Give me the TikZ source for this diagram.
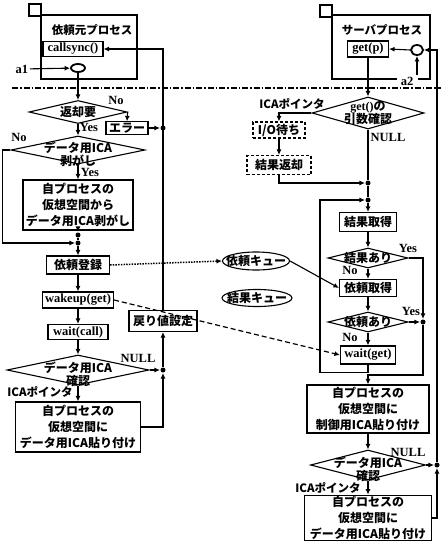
\documentclass[tikz,border=0pt]{standalone}
\usepackage{fontspec}
\setmainfont{Noto Sans CJK JP}
\newfontfamily\latf{Liberation Serif}
\usetikzlibrary{positioning,calc,shapes.geometric,arrows.meta}
\tikzset{
    >={Latex[length=5.5pt,width=5pt]},
    every path/.style={line width=1.1pt},
    ica box/.style={
        rectangle,
        draw,
        line width=1.1pt,
        inner sep=1pt,
        align=center,
        font=\fontsize{12}{16}\selectfont\bfseries
    },
    ica wait box/.style={ica box, densely dashed},
    ica lat box/.style={ica box, font=\latf\fontsize{12.5}{14}\selectfont\bfseries},
    ica cond/.style 2 args={
        diamond,
        draw,
        line width=1.1pt,
        minimum width=#1,
        minimum height=#2,
        inner sep=0pt
    },
    ica cond text/.style={align=center, inner sep=0pt, font=\fontsize{12}{13}\selectfont\bfseries},
    with text/.style={label={[ica cond text]center:#1}},
    ica queue/.style 2 args={
        ellipse,
        draw,
        line width=1.1pt,
        minimum width=#1,
        minimum height=#2,
        inner sep=0pt
    },
    ica entry/.style 2 args={ellipse, draw, line width=1.8pt, minimum width=#1, minimum height=#2, inner sep=0pt},
    lat label/.style={font=\latf\fontsize{12.5}{14}\selectfont\bfseries, inner sep=1pt},
    jp label/.style={font=\fontsize{11.5}{13}\selectfont\bfseries, inner sep=1pt},
    junction/.style={circle, fill, inner sep=0pt, minimum size=5pt},
    proc frame/.style={line width=1.1pt},
    border line/.style={line width=1.2pt, dash pattern=on 6pt off 2pt on 1.5pt off 2pt},
    req line/.style={line width=1.5pt, dash pattern=on 1.5pt off 1.2pt},
    wake line/.style={line width=1.2pt, dash pattern=on 5pt off 3pt}
}
\begin{document}
\begin{tikzpicture}[x=1pt,y=-1pt]
    \useasboundingbox (0,0) rectangle (441,551);

    %process frames and the border between user side and system side
    \draw[proc frame] (29,4) rectangle (41,16);
    \draw[proc frame] (41,15) rectangle (137,79);
    \draw[proc frame] (320,5) rectangle (332,17);
    \draw[proc frame] (397,79) -- (332,79) -- (332,15) -- (430,15) -- (430,79) -- (418,79);
    \draw[border line] (12,88) -- (441,88);

    %client side
    \node[jp label] (clientTitle) at (92,30) {依頼元プロセス};
    \node[ica lat box, minimum width=60pt, minimum height=15pt] (callsync) at (73,49) {callsync()};
    \node[ica entry={14pt}{8pt}] (entryL) at (78,68) {};
    \node[lat label] (a1) at (22,69) {a1};
    \node[ica cond={98pt}{23pt}, with text=返却要] (needRet) at (78,112) {};
    \node[ica box, minimum width=42pt, minimum height=12pt] (err) at (127,128) {エラー};
    \node[junction] (jE) at (163,128) {};
    \node[ica cond={134pt}{28pt}, label={[ica cond text,yshift=-4pt]center:データ用ICA\\剥がし}] (stripChk) at (78,150) {};
    \node[ica box, minimum width=110pt, minimum height=50pt] (stripBox) at (78,205) {自プロセスの\\仮想空間から\\データ用ICA剥がし};
    \node[junction] (j1) at (78,235) {};
    \node[junction] (j2) at (78,243) {};
    \node[ica box, minimum width=63pt, minimum height=18pt] (reg) at (78,265) {依頼登録};
    \node[ica lat box, minimum width=71pt, minimum height=16pt] (wake) at (78,300) {wakeup(get)};
    \node[ica lat box, minimum width=60pt, minimum height=15pt] (waitCall) at (78,332) {wait(call)};
    \node[ica cond={142pt}{30pt}, label={[ica cond text,yshift=-4pt]center:データ用ICA\\確認}] (chkL) at (78,370) {};
    \node[junction] (jR) at (163,370) {};
    \node[ica box, minimum width=68pt, minimum height=21pt] (retVal) at (163,321) {戻り値設定};
    \node[ica box, minimum width=125pt, minimum height=50pt] (pasteL) at (78,427) {自プロセスの\\仮想空間に\\データ用ICA貼り付け};

    \node[lat label] (retNo) at (116,100) {No};
    \node[lat label] (retYes) at (89,127) {Yes};
    \node[lat label] (stripNo) at (19,137) {No};
    \node[lat label] (stripYes) at (90,172) {Yes};
    \node[lat label] (chkLNull) at (138,358) {NULL};
    \node[jp label] (chkLPtr) at (40,392) {ICAポインタ};

    %server side
    \node[jp label] (serverTitle) at (382,30) {サーバプロセス};
    \node[ica lat box, minimum width=41pt, minimum height=16pt] (getp) at (368,49) {get(p)};
    \node[ica entry={12pt}{10pt}] (entryR) at (417,50) {};
    \node[lat label] (a2) at (407,81) {a2};
    \node[ica cond={112pt}{32pt}, label={[ica cond text]center:{\latf get()}の\\引数確認}] (argChk) at (368,113) {};
    \node[ica wait box, minimum width=52pt, minimum height=16pt] (ioWait) at (279,130) {I/O待ち};
    \node[ica wait box, minimum width=64pt, minimum height=19pt] (resRet) at (279,165) {結果返却};
    \node[junction] (j3) at (368,183) {};
    \node[junction] (j4) at (368,200) {};
    \coordinate (loopCorner) at (320,200);
    \node[ica box, minimum width=57pt, minimum height=19pt] (getRes) at (368,222) {結果取得};
    \node[ica cond={80pt}{20pt}, with text=結果あり] (hasRes) at (368,258) {};
    \node[ica box, minimum width=57pt, minimum height=17pt] (getReq) at (368,288) {依頼取得};
    \node[ica cond={80pt}{20pt}, with text=依頼あり] (hasReq) at (368,322) {};
    \node[junction] (j5) at (423,322) {};
    \node[ica lat box, minimum width=55pt, minimum height=18pt] (waitGet) at (368,355) {wait(get)};
    \node[ica box, minimum width=122pt, minimum height=48pt] (pasteCtrl) at (368,409) {自プロセスの\\仮想空間に\\制御用ICA貼り付け};
    \node[ica cond={115pt}{30pt}, label={[ica cond text,yshift=-4pt]center:データ用ICA\\確認}] (chkR) at (368,465) {};
    \node[junction] (j6) at (437,465) {};
    \node[ica box, minimum width=127pt, minimum height=43pt] (pasteR) at (368,518) {自プロセスの\\仮想空間に\\データ用ICA貼り付け};

    \node[jp label] (argPtr) at (292,104) {ICAポインタ};
    \node[lat label] (argNull) at (388,137) {NULL};
    \node[lat label] (resYes) at (408,248) {Yes};
    \node[lat label] (resNo) at (350,270) {No};
    \node[lat label] (reqYes) at (411,311) {Yes};
    \node[lat label] (reqNo) at (350,337) {No};
    \node[lat label] (chkRNull) at (408,452) {NULL};
    \node[jp label] (chkRPtr) at (328,488) {ICAポインタ};

    %queues
    \node[ica queue={67pt}{18pt}, with text=依頼キュー] (reqQ) at (256,261) {};
    \node[ica queue={70pt}{17pt}, with text=結果キュー] (resQ) at (257,298) {};

    %client flow
    \draw[->] (a1) -- (entryL);
    \draw[->] (entryL) -- (needRet.north);
    \draw[->] (needRet.east) -- (err.north);
    \draw[->] (err) -- (jE);
    \draw[->] (needRet.south) -- (stripChk.north);
    \draw[->] (stripChk.south) -- (stripBox.north);
    \draw[->] (stripChk.west) -- ++(-8,0) |- (j2);
    \draw[->] (stripBox.south) -- (j1);
    \draw (j1) -- (j2);
    \draw[->] (j2) -- (reg.north);
    \draw[->] (reg) -- (wake);
    \draw[->] (wake) -- (waitCall);
    \draw[->] (waitCall.south) -- (chkL.north);
    \draw[->] (chkL.east) -- (jR);
    \draw[->] (chkL.south) -- (pasteL.north);
    \draw[->] (pasteL.east) -| (jR);
    \draw[->] (jR) -- (retVal.south);
    \draw[->] (retVal.north) |- (callsync.east);

    %server flow
    \draw[->] (a2.north -| entryR.south) -- (entryR.south);
    \draw[->] (entryR.west) -- (getp.east);
    \draw[->] (getp.south) -- (argChk.north);
    \draw[->] (argChk.west) -| (ioWait.north);
    \draw[->] (ioWait) -- (resRet);
    \draw[->] (resRet.south) |- (j3);
    \draw (argChk.south) -- (j3);
    \draw (j3) -- (j4);
    \draw[->] (j4) -- (getRes.north);
    \draw[->] (getRes.south) -- (hasRes.north);
    \draw[->] (hasRes.south) -- (getReq.north);
    \draw[->] (hasRes.east) -| (j5);
    \draw[->] (getReq.south) -- (hasReq.north);
    \draw[->] (hasReq.east) -- (j5);
    \draw[->] (hasReq.south) -- (waitGet.north);
    \draw[->] (waitGet.south) -- ++(0,8) -| (loopCorner) -- (j4);
    \draw[->] (j5) -- ++(0,53) -| (pasteCtrl.north);
    \draw[->] (pasteCtrl.south) -- (chkR.north);
    \draw[->] (chkR.east) -- (j6);
    \draw[->] (chkR.south) -- (pasteR.north);
    \draw[->] (pasteR.east) -| (j6);
    \draw[->] (j6) |- (entryR.east);

    %requests and wakeups between the processes
    \draw[->, req line] (reg.east) -- (reqQ.west);
    \draw[->] (reqQ.east) -- (getReq.west);
    \draw[->, wake line] (wake.east) -- (waitGet.west);
\end{tikzpicture}
\end{document}
